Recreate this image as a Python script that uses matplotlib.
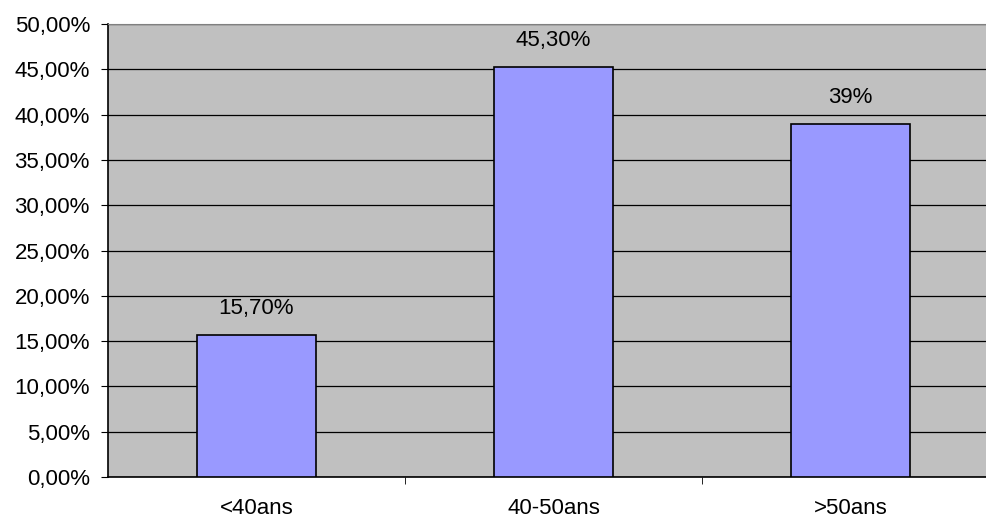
import matplotlib
matplotlib.use("Agg")
import matplotlib.pyplot as plt
from matplotlib.ticker import FuncFormatter

categories = ["<40ans", "40-50ans", ">50ans"]
values = [15.70, 45.30, 39.0]
labels = ["15,70%", "45,30%", "39%"]

plt.rcParams['font.family'] = ['Liberation Sans', 'DejaVu Sans']
FS = 16

fig = plt.figure(figsize=(9.87, 5.19), dpi=100)
# plot area runs past the right edge of the figure
ax = fig.add_axes([108 / 987, 42 / 519, 891 / 987, 453 / 519])
ax.set_facecolor("#C0C0C0")

x = list(range(len(categories)))
ax.bar(x, values, width=0.4, color="#9999FF", edgecolor="black", linewidth=1.2, zorder=3)
for xi, v, lab in zip(x, values, labels):
    ax.text(xi, v + 1.7, lab, ha="center", va="bottom", fontsize=FS)

ax.set_xlim(-0.5, 2.5)
ax.set_ylim(0, 50)
ax.set_yticks(range(0, 51, 5))
ax.yaxis.set_major_formatter(FuncFormatter(lambda v, p: f"{v:.2f}%".replace(".", ",")))
ax.grid(axis="y", color="black", linewidth=0.9, zorder=1)

ax.set_xticks(x)
ax.set_xticklabels(categories)
ax.set_xticks([0.5, 1.5], minor=True)
ax.tick_params(axis="x", which="major", length=0, pad=15, labelsize=FS)
ax.tick_params(axis="x", which="minor", length=5, direction="out")
ax.tick_params(axis="y", length=5, direction="out", labelsize=FS, pad=8)

ax.spines["right"].set_visible(False)
ax.spines["top"].set_color("#808080")
ax.spines["left"].set_linewidth(1.2)
ax.spines["bottom"].set_linewidth(1.2)

fig.savefig("out.png", dpi=100)
